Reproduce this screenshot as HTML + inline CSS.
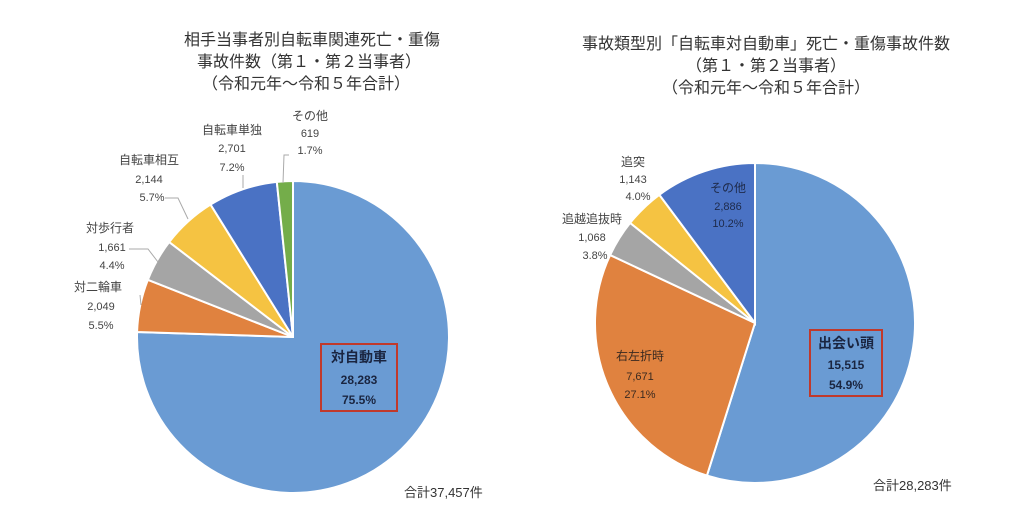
<!DOCTYPE html>
<html><head><meta charset="utf-8">
<style>
body{margin:0;background:#fff;}
svg{display:block;font-family:"Liberation Sans","Noto Sans CJK JP",sans-serif;}
</style></head>
<body>
<svg id="c" width="1024" height="513" viewBox="0 0 1024 513">
<g font-size="16" fill="#333" text-anchor="middle">
<text x="312" y="45">相手当事者別自転車関連死亡・重傷</text>
<text x="309" y="67">事故件数（第１・第２当事者）</text>
<text x="306" y="89">（令和元年～令和５年合計）</text>
</g>
<g font-size="16" fill="#333" text-anchor="middle">
<text x="766" y="49">事故類型別「自転車対自動車」死亡・重傷事故件数</text>
<text x="766" y="71">（第１・第２当事者）</text>
<text x="766" y="93">（令和元年～令和５年合計）</text>
</g>
<g id="lp"></g>
<g id="rp"></g>
<g font-size="12" fill="#444" text-anchor="middle">
<g><text x="310" y="120">その他</text><text x="310" y="137" font-size="11">619</text><text x="310" y="154" font-size="11">1.7%</text></g>
<g><text x="232" y="134">自転車単独</text><text x="232" y="152" font-size="11">2,701</text><text x="232" y="171" font-size="11">7.2%</text></g>
<g><text x="149" y="164">自転車相互</text><text x="149" y="183" font-size="11">2,144</text><text x="152" y="201" font-size="11">5.7%</text></g>
<g><text x="110" y="232">対歩行者</text><text x="112" y="251" font-size="11">1,661</text><text x="112" y="269" font-size="11">4.4%</text></g>
<g><text x="98" y="291">対二輪車</text><text x="101" y="310" font-size="11">2,049</text><text x="101" y="329" font-size="11">5.5%</text></g>
</g>
<g stroke="#aaa" fill="none" stroke-width="1">
<polyline points="289,155 284,155 283,183"/>
<polyline points="243,175 243,188"/>
<polyline points="165,198 178,198 188,219"/>
<polyline points="129,249 148,249 158,262"/>
<polyline points="140,295 141,305"/>
</g>
<g text-anchor="middle" font-weight="bold" fill="#1a2540">
<rect x="321" y="344" width="76" height="67" fill="none" stroke="#c0392b" stroke-width="2"/>
<text x="359" y="362" font-size="14">対自動車</text>
<text x="359" y="384" font-size="12">28,283</text>
<text x="359" y="404" font-size="12">75.5%</text>
</g>
<text x="404" y="497" font-size="13" fill="#333">合計37,457件</text>
<g font-size="12" fill="#444" text-anchor="middle">
<g><text x="633" y="166">追突</text><text x="633" y="183" font-size="11">1,143</text><text x="638" y="200" font-size="11">4.0%</text></g>
<g><text x="592" y="223">追越追抜時</text><text x="592" y="241" font-size="11">1,068</text><text x="595" y="259" font-size="11">3.8%</text></g>
<g fill="#1e2a4a"><text x="728" y="192">その他</text><text x="728" y="210" font-size="11">2,886</text><text x="728" y="227" font-size="11">10.2%</text></g>
<g fill="#3a2a20"><text x="640" y="360">右左折時</text><text x="640" y="380" font-size="11">7,671</text><text x="640" y="398" font-size="11">27.1%</text></g>
</g>
<g text-anchor="middle" font-weight="bold" fill="#1a2540">
<rect x="810" y="330" width="72" height="66" fill="none" stroke="#c0392b" stroke-width="2"/>
<text x="846" y="348" font-size="14">出会い頭</text>
<text x="846" y="369" font-size="12">15,515</text>
<text x="846" y="389" font-size="12">54.9%</text>
</g>
<text x="873" y="490" font-size="13" fill="#333">合計28,283件</text>
</svg>
<script>
const leftCategories=["対自動車","対二輪車","対歩行者","自転車相互","自転車単独","その他"];
const leftValues=[28283,2049,1661,2144,2701,619];
const rightCategories=["出会い頭","右左折時","追越追抜時","追突","その他"];
const rightValues=[15515,7671,1068,1143,2886];
const leftColors=["#6a9bd3","#e0823f","#a5a5a5","#f5c342","#4a72c4","#74ad4a"];
const rightColors=["#6a9bd3","#e0823f","#a5a5a5","#f5c342","#4a72c4"];
function drawPie(gid,cats,vals,cols,cx,cy,r){
  const g=document.getElementById(gid);
  const tot=vals.reduce((a,b)=>a+b,0);
  let a0=0;
  vals.forEach((v,i)=>{
    const a1=a0+v/tot*2*Math.PI;
    const x0=cx+r*Math.sin(a0),y0=cy-r*Math.cos(a0);
    const x1=cx+r*Math.sin(a1),y1=cy-r*Math.cos(a1);
    const large=(a1-a0)>Math.PI?1:0;
    const p=document.createElementNS("http://www.w3.org/2000/svg","path");
    p.setAttribute("d",`M${cx},${cy}L${x0},${y0}A${r},${r} 0 ${large} 1 ${x1},${y1}Z`);
    p.setAttribute("fill",cols[i]);
    p.setAttribute("stroke","#fff");
    p.setAttribute("stroke-width","2");
    
    
    g.appendChild(p);
    a0=a1;
  });
}
drawPie("lp",leftCategories,leftValues,leftColors,293,337,156);
drawPie("rp",rightCategories,rightValues,rightColors,755,323,160);
</script>
</body></html>
